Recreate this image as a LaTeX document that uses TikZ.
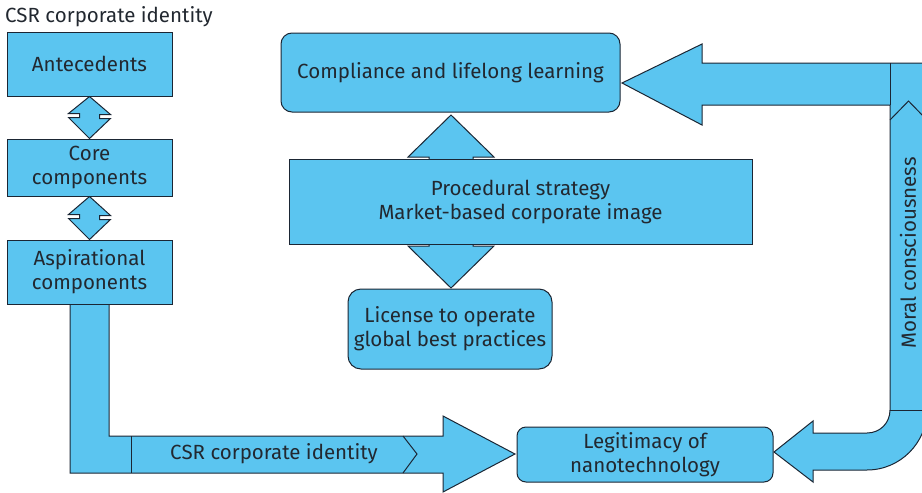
\documentclass[tikz,border=0pt]{standalone}
\usepackage{fontspec}
\setmainfont{Fira Sans}
\usetikzlibrary{calc}
\definecolor{skyb}{RGB}{91,197,240}
\definecolor{edge}{RGB}{27,38,52}
\definecolor{ink}{RGB}{34,40,48}
\tikzset{
  blk/.style={draw=edge, fill=skyb, line width=1pt, line join=miter},
  box/.style={blk, rectangle, align=center, inner sep=0pt, text=ink,
              font=\fontsize{20.5}{24}\selectfont},
  rbox/.style={box, rounded corners=11pt},
  lbl/.style={text=ink, font=\fontsize{20.5}{24}\selectfont, inner sep=0pt},
}
\begin{document}
\begin{tikzpicture}[x=1pt,y=-1pt]
\clip (0,0) rectangle (922,493);

% heading
\node[lbl, anchor=west] (head) at (5,17) {CSR corporate identity};

% arrow leaving the aspirational components towards legitimacy
\draw[blk] (70,304) -- (70,473) -- (443,473) -- (443,492) -- (515,454)
  -- (443,416) -- (443,436) -- (109,436) -- (109,304) -- cycle;
\draw[edge, line width=1pt] (131,436) -- (131,473);
\draw[edge, line width=1pt] (403,436) -- (417,454) -- (403,473);
\node[lbl] (csrlbl) at (274,454) {CSR corporate identity};

% left column
\node[box, minimum width=165pt, minimum height=64pt] (ant) at (89.5,64) {Antecedents};
\node[box, minimum width=165pt, minimum height=57pt] (core) at (89.5,167.5) {Core\\components};
\node[box, minimum width=165pt, minimum height=64pt] (asp) at (89.5,272) {Aspirational\\components};

% two-headed links between the column boxes
\draw[blk] (ant.south) -- ++(21,18) -- ++(-11,0) -- ++(0,4) -- ++(11,0)
  -- (core.north) -- ++(-21,-21) -- ++(11,0) -- ++(0,-4) -- ++(-11,0) -- cycle;
\draw[blk] (core.south) -- ++(21,19) -- ++(-11,0) -- ++(0,4) -- ++(11,0)
  -- (asp.north) -- ++(-21,-21) -- ++(11,0) -- ++(0,-4) -- ++(-11,0) -- cycle;

% central boxes
\node[rbox, minimum width=339pt, minimum height=79pt] (comp) at (450.5,72.5) {Compliance and lifelong learning};
\node[rbox, rounded corners=13pt, minimum width=204pt, minimum height=80pt] (lic) at (450,329) {License to operate\\global best practices};
\draw[blk] (451,115) -- (494,157) -- (473,157) -- (473,246) -- (494,246)
  -- (451,288) -- (408,246) -- (429,246) -- (429,157) -- (408,157) -- cycle;
\node[box, minimum width=463pt, minimum height=85pt] (proc) at (520.5,201.5) {Procedural strategy\\Market-based corporate image};

% legitimacy
\node[rbox, rounded corners=9pt, minimum width=256pt, minimum height=55pt] (leg) at (645,454.5) {Legitimacy of\\nanotechnology};

% feedback loop on the right
\draw[blk] (622,83) -- (702,44) -- (702,63) -- (927,63) -- (927,410)
  .. controls (927,443) and (900,470) .. (867,470) -- (813,470) -- (813,482)
  -- (774,452) -- (813,421) -- (813,433) -- (867,433)
  .. controls (880,433) and (890,423) .. (890,410) -- (890,105) -- (702,105)
  -- (702,125) -- cycle;
\draw[edge, line width=1pt] (890,63) -- (890,105);
\draw[edge, line width=1pt] (890,120) -- (908.5,101) -- (927,120);
\draw[edge, line width=1pt] (890,410) -- (927,410);
\node[lbl, rotate=90] (moral) at (908,253) {Moral consciousness};
\end{tikzpicture}
\end{document}
